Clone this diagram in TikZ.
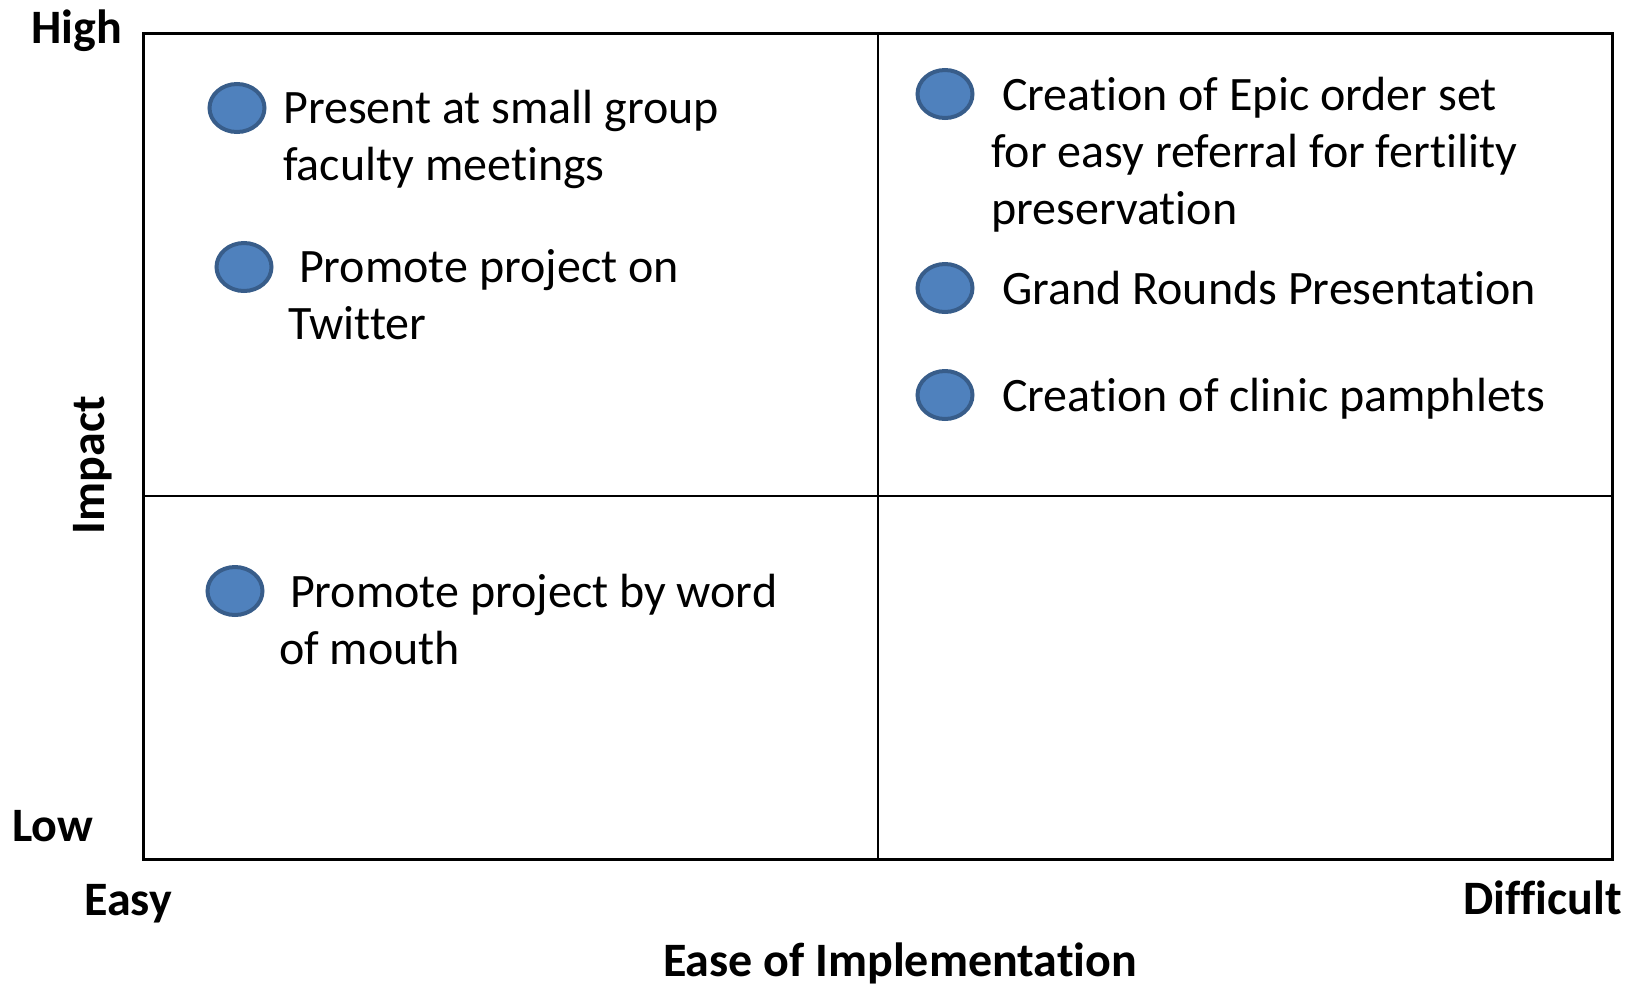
\documentclass[tikz,border=0pt]{standalone}
\usepackage{fontspec}
\setmainfont{Carlito}[Ligatures=NoCommon]
\usetikzlibrary{shapes.geometric}
\definecolor{dotfill}{HTML}{4F81BD}
\definecolor{dotline}{HTML}{385D8A}

\tikzset{
  dot/.style={ellipse,fill=dotfill,draw=dotline,line width=4pt,minimum width=55pt,minimum height=48pt,inner sep=0pt},
  item/.style={anchor=north west,align=left,inner sep=0pt,font=\fontsize{48}{57}\selectfont},
  axislabel/.style={inner sep=0pt,font=\fontsize{48}{57}\selectfont\bfseries}
}

\begin{document}
\begin{tikzpicture}[line cap=rect,line join=miter,x=1pt,y=-1pt]
\useasboundingbox (0,0) rectangle (1633,986);

%rajat ja jako
\draw[line width=3pt] (143,33) rectangle (1612,859);
\draw[line width=2pt] (878,33) -- (878,859);
\draw[line width=2pt] (143,496) -- (1612,496);

%akselit
\node[axislabel,anchor=base west] (high) at (31,43) {High};
\node[axislabel,anchor=base west] (low) at (12,841) {Low};
\node[axislabel,anchor=base west] (easy) at (84,915) {Easy};
\node[axislabel,anchor=base east] (difficult) at (1622,914) {Difficult};
\node[axislabel,anchor=base] (ease) at (900,976) {Ease of Implementation};
\node[axislabel,anchor=base,rotate=90] (impact) at (104,465) {Impact};

%pallot
\foreach \n/\x/\y in {dotA/237/108,dotB/244/267,dotC/235/591,dotD/945/94,dotE/945/288,dotF/945/395}
{
\node[dot] (\n) at (\x,\y) {};
}

%tekstit
\node[item] (present) at (283,83.1) {\strut Present at small group\\faculty meetings};
\node[item] (twitter) at (288,242.1) {\strut\ Promote project on\\Twitter};
\node[item] (mouth) at (279,567.1) {\strut\ Promote project by word\\of mouth};
\node[item] (epic) at (991,70.1) {\strut\ Creation of Epic order set\\for easy referral for fertility\\preservation};
\node[item] (rounds) at (1002,264.1) {\strut Grand Rounds Presentation};
\node[item] (pamphlets) at (1002,371.1) {\strut Creation of clinic pamphlets};
\end{tikzpicture}
\end{document}
